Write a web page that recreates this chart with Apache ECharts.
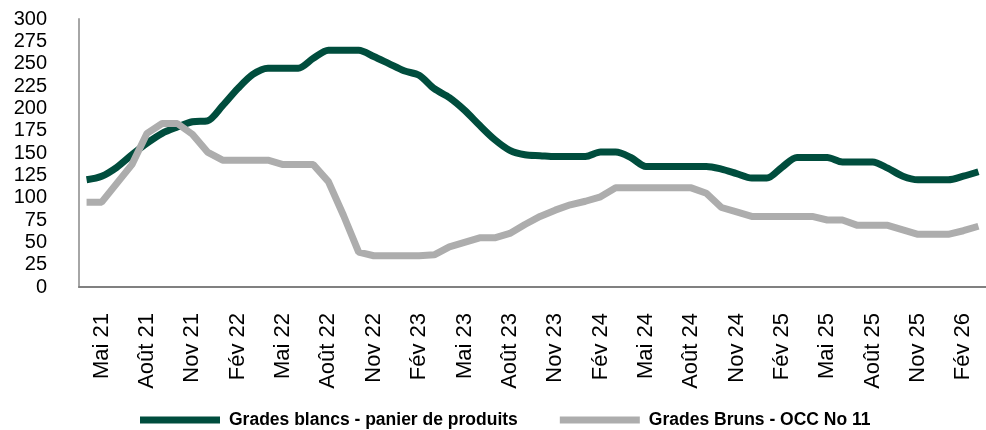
<!DOCTYPE html>
<html>
<head>
<meta charset="utf-8">
<script src="https://cdn.jsdelivr.net/npm/echarts@6/dist/echarts.min.js"></script>
<style>
  html, body { margin: 0; padding: 0; background: #fff; }
  #chart { width: 986px; height: 430px; }
</style>
</head>
<body>
<div id="chart"></div>
<script>
// mois d'avril 2021 à mars 2026
const months = [
  'Avr 21', 'Mai 21', 'Juin 21', 'Juil 21', 'Août 21', 'Sep 21', 'Oct 21', 'Nov 21', 'Déc 21',
  'Jan 22', 'Fév 22', 'Mar 22', 'Avr 22', 'Mai 22', 'Juin 22', 'Juil 22', 'Août 22', 'Sep 22', 'Oct 22', 'Nov 22', 'Déc 22',
  'Jan 23', 'Fév 23', 'Mar 23', 'Avr 23', 'Mai 23', 'Juin 23', 'Juil 23', 'Août 23', 'Sep 23', 'Oct 23', 'Nov 23', 'Déc 23',
  'Jan 24', 'Fév 24', 'Mar 24', 'Avr 24', 'Mai 24', 'Juin 24', 'Juil 24', 'Août 24', 'Sep 24', 'Oct 24', 'Nov 24', 'Déc 24',
  'Jan 25', 'Fév 25', 'Mar 25', 'Avr 25', 'Mai 25', 'Juin 25', 'Juil 25', 'Août 25', 'Sep 25', 'Oct 25', 'Nov 25', 'Déc 25',
  'Jan 26', 'Fév 26', 'Mar 26'
]

// Grades blancs - panier de produits
const blancs = [
  120, 124, 134, 148, 161, 172, 179, 185, 186,
  203, 222, 238, 245, 245, 245, 256, 265, 265, 265, 258, 250,
  242, 237, 222, 212, 198, 181, 165, 153, 148, 147, 146, 146,
  146, 151, 151, 145, 135, 135, 135, 135, 135, 132, 127, 122,
  122, 134, 145, 145, 145, 140, 140, 140, 133, 124, 120, 120,
  120, 124, 129
]

// Grades Bruns - OCC No 11
const bruns = [
  95, 95, 116, 137, 172, 183, 183, 171, 151,
  142, 142, 142, 142, 137, 137, 137, 118, 80, 39, 35, 35,
  35, 35, 36, 45, 50, 55, 55, 60, 70, 79, 86, 92,
  96, 101, 111, 111, 111, 111, 111, 111, 105, 89, 84, 79,
  79, 79, 79, 79, 75, 75, 69, 69, 69, 64, 59, 59,
  59, 63, 68
]

const yTicks = [0, 25, 50, 75, 100, 125, 150, 175, 200, 225, 250, 275, 300]

const GREEN = '#004d3d'
const GREY = '#adadad'
const FONT = "'Liberation Sans', Arial, sans-serif"

const myChart = echarts.init(document.getElementById('chart'))
const option = {
  animation: false,
  grid: {
    left: 79,
    right: -4,
    top: 19,
    bottom: 143
  },
  legend: {
    left: 135,
    top: 406,
    itemWidth: 80,
    itemHeight: 7,
    itemGap: 42,
    icon: 'rect',
    itemStyle: { borderWidth: 0 },
    lineStyle: { width: 0, cap: 'butt' },
    textStyle: {
      fontFamily: FONT,
      fontWeight: 'bold',
      fontSize: 17.5,
      color: '#000',
      padding: [0, 0, 0, 4]
    },
    data: ['Grades blancs - panier de produits', 'Grades Bruns - OCC No 11']
  },
  xAxis: {
    type: 'category',
    data: months,
    boundaryGap: true,
    axisLine: { lineStyle: { color: '#808080', width: 2 } },
    axisTick: { show: false },
    axisLabel: {
      rotate: 90,
      margin: 26,
      // une étiquette sur trois, à partir de mai 21
      interval: (i) => i % 3 === 1,
      fontFamily: FONT,
      fontSize: 22,
      color: '#000'
    }
  },
  yAxis: {
    type: 'value',
    min: yTicks[0],
    max: yTicks[yTicks.length - 1],
    interval: 25,
    splitLine: { show: false },
    axisLine: { show: true, lineStyle: { color: '#a6a6a6', width: 2 } },
    axisTick: { show: false },
    axisLabel: {
      margin: 32,
      showMinLabel: true,
      showMaxLabel: true,
      hideOverlap: false,
      fontFamily: FONT,
      fontSize: 20,
      color: '#000'
    }
  },
  series: [
    {
      name: 'Grades blancs - panier de produits',
      type: 'line',
      data: blancs,
      smooth: 0.3,
      showSymbol: false,
      itemStyle: { color: GREEN },
      lineStyle: { color: GREEN, width: 7 }
    },
    {
      name: 'Grades Bruns - OCC No 11',
      type: 'line',
      data: bruns,
      showSymbol: false,
      itemStyle: { color: GREY },
      lineStyle: { color: GREY, width: 7 }
    }
  ]
}
myChart.setOption(option)
</script>
</body>
</html>
